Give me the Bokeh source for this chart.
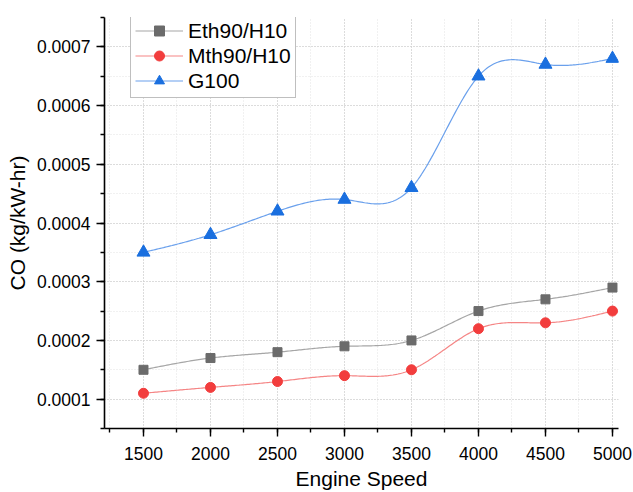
import numpy as np
from bokeh.plotting import figure
from bokeh.models import (Range1d, SingleIntervalTicker, PrintfTickFormatter,
                          Legend, LegendItem)
from bokeh.embed import file_html
from bokeh.resources import INLINE

# ---- data ----
speed = [1500, 2000, 2500, 3000, 3500, 4000, 4500, 5000]
eth90_h10 = [0.00015, 0.00017, 0.00018, 0.00019, 0.00020, 0.00025, 0.00027, 0.00029]
mth90_h10 = [0.00011, 0.00012, 0.00013, 0.00014, 0.00015, 0.00022, 0.00023, 0.00025]
g100 = [0.00035, 0.00038, 0.00042, 0.00044, 0.00046, 0.00065, 0.00067, 0.00068]
series_names = ["Eth90/H10", "Mth90/H10", "G100"]
x_label = "Engine Speed"
y_label = "CO (kg/kW-hr)"

X_START, X_END = 1209, 5045


def natural_spline(x, y, n=40):
    x = np.asarray(x, float)
    y = np.asarray(y, float)
    m = len(x)
    h = np.diff(x)
    A = np.zeros((m, m))
    b = np.zeros(m)
    A[0, 0] = 1
    A[-1, -1] = 1
    for i in range(1, m - 1):
        A[i, i - 1] = h[i - 1]
        A[i, i] = 2 * (h[i - 1] + h[i])
        A[i, i + 1] = h[i]
        b[i] = 3 * ((y[i + 1] - y[i]) / h[i] - (y[i] - y[i - 1]) / h[i - 1])
    c = np.linalg.solve(A, b)
    xs, ys = [], []
    for i in range(m - 1):
        bi = (y[i + 1] - y[i]) / h[i] - h[i] * (2 * c[i] + c[i + 1]) / 3
        di = (c[i + 1] - c[i]) / (3 * h[i])
        t = np.linspace(0, h[i], n, endpoint=(i == m - 2))
        xs.extend(x[i] + t)
        ys.extend(y[i] + bi * t + c[i] * t ** 2 + di * t ** 3)
    return xs, ys


p = figure(width=633, height=492, output_backend="svg", toolbar_location=None,
           x_range=Range1d(X_START, X_END), y_range=Range1d(0.00005, 0.00075),
           min_border_left=104, min_border_right=15, min_border_top=17,
           min_border_bottom=63)
p.outline_line_color = None
p.background_fill_color = "white"

FONT = "Liberation Sans"

# axes
for ax in (p.xaxis[0], p.yaxis[0]):
    ax.axis_line_color = "black"
    ax.axis_line_width = 1.6
    ax.major_tick_line_color = "black"
    ax.minor_tick_line_color = "black"
    ax.major_tick_line_width = 1.4
    ax.minor_tick_line_width = 1.4
    ax.major_tick_out = 8
    ax.major_tick_in = 0
    ax.minor_tick_out = 4
    ax.minor_tick_in = 0
    ax.major_label_text_font = FONT
    ax.major_label_text_font_size = "17.5px"
    ax.major_label_text_color = "black"
    ax.axis_label_text_font = FONT
    ax.axis_label_text_font_size = "21px"
    ax.axis_label_text_font_style = "normal"
    ax.axis_label_text_color = "black"

p.xaxis[0].ticker = SingleIntervalTicker(interval=500, num_minor_ticks=2)
p.yaxis[0].ticker = SingleIntervalTicker(interval=0.0001, num_minor_ticks=2)
p.yaxis[0].formatter = PrintfTickFormatter(format="%.4f")
p.xaxis[0].axis_label = x_label
p.yaxis[0].axis_label = y_label
p.xaxis[0].major_label_standoff = 10
p.yaxis[0].major_label_standoff = 6
p.xaxis[0].axis_label_standoff = 4
p.yaxis[0].axis_label_standoff = 5

# grid
for g in (p.xgrid[0], p.ygrid[0]):
    g.grid_line_color = "#c6c6c6"
    g.grid_line_dash = "1 2"
    g.grid_line_width = 1
    g.minor_grid_line_color = "#e2e2e2"
    g.minor_grid_line_dash = "1 2"
    g.minor_grid_line_width = 1

colors = ["#6b6b6b", "#f23d3d", "#1a6fdf"]
line_colors = ["#a6a6a6", "#f58585", "#6aa0ec"]
all_series = [eth90_h10, mth90_h10, g100]
markers = ["square", "circle", "triangle"]
sizes = [9, 10, 13]

items = []
for name, ys, col, lcol, mk, sz in zip(series_names, all_series, colors,
                                         line_colors, markers, sizes):
    sx, sy = natural_spline(speed, ys)
    lr = p.line(sx, sy, line_color=lcol, line_width=1.2)
    mr = p.scatter(speed, ys, marker=mk, size=sz, fill_color=col,
                   line_color=col)
    items.append(LegendItem(label=name, renderers=[lr, mr]))

legend = Legend(items=items, location=(26, 330))
legend.label_text_font = FONT
legend.label_text_font_size = "21px"
legend.label_text_color = "black"
legend.glyph_width = 48
legend.glyph_height = 25
legend.label_height = 25
legend.label_standoff = 5
legend.spacing = 0
legend.padding = 4
legend.margin = 0
legend.border_line_color = "#808080"
legend.border_line_width = 1
legend.background_fill_color = "white"
legend.background_fill_alpha = 1
p.add_layout(legend, "center")

open("out.html", "w").write(file_html(p, INLINE))
